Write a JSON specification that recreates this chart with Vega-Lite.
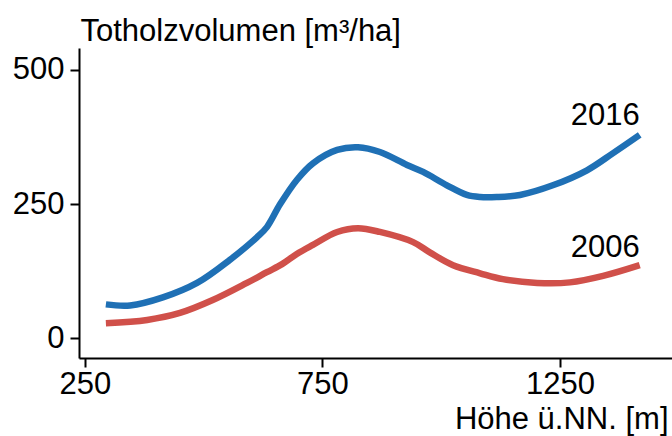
{
  "$schema": "https://vega.github.io/schema/vega-lite/v6.json",
  "autosize": {"type": "none"},
  "width": 593,
  "height": 310,
  "padding": {"left": 79, "top": 48, "right": 0, "bottom": 78},
  "background": "white",
  "config": {
    "view": {"stroke": null},
    "font": "Liberation Sans",
    "axis": {"grid": false, "domainColor": "black", "domainWidth": 2, "tickColor": "black", "tickWidth": 2, "tickSize": 9, "labelFont": "Liberation Sans", "labelFontSize": 31, "labelColor": "black", "titleFont": "Liberation Sans", "titleFontSize": 31, "titleFontWeight": "normal", "titleColor": "black", "format": "d"}
  },
  "datasets": {
    "curves": [
      {"hoehe": 294, "vol": 63, "jahr": "2016"},
      {"hoehe": 345, "vol": 61, "jahr": "2016"},
      {"hoehe": 414, "vol": 76, "jahr": "2016"},
      {"hoehe": 486, "vol": 103, "jahr": "2016"},
      {"hoehe": 555, "vol": 146, "jahr": "2016"},
      {"hoehe": 612, "vol": 188, "jahr": "2016"},
      {"hoehe": 633, "vol": 207, "jahr": "2016"},
      {"hoehe": 661, "vol": 250, "jahr": "2016"},
      {"hoehe": 696, "vol": 295, "jahr": "2016"},
      {"hoehe": 730, "vol": 326, "jahr": "2016"},
      {"hoehe": 781, "vol": 351, "jahr": "2016"},
      {"hoehe": 825, "vol": 356, "jahr": "2016"},
      {"hoehe": 871, "vol": 347, "jahr": "2016"},
      {"hoehe": 928, "vol": 323, "jahr": "2016"},
      {"hoehe": 962, "vol": 310, "jahr": "2016"},
      {"hoehe": 1012, "vol": 285, "jahr": "2016"},
      {"hoehe": 1054, "vol": 267, "jahr": "2016"},
      {"hoehe": 1082, "vol": 263, "jahr": "2016"},
      {"hoehe": 1117, "vol": 263, "jahr": "2016"},
      {"hoehe": 1166, "vol": 267, "jahr": "2016"},
      {"hoehe": 1235, "vol": 285, "jahr": "2016"},
      {"hoehe": 1307, "vol": 313, "jahr": "2016"},
      {"hoehe": 1362, "vol": 345, "jahr": "2016"},
      {"hoehe": 1418, "vol": 379, "jahr": "2016"},
      {"hoehe": 294, "vol": 28, "jahr": "2006"},
      {"hoehe": 381, "vol": 34, "jahr": "2006"},
      {"hoehe": 450, "vol": 47, "jahr": "2006"},
      {"hoehe": 519, "vol": 71, "jahr": "2006"},
      {"hoehe": 591, "vol": 103, "jahr": "2006"},
      {"hoehe": 633, "vol": 123, "jahr": "2006"},
      {"hoehe": 665, "vol": 138, "jahr": "2006"},
      {"hoehe": 696, "vol": 157, "jahr": "2006"},
      {"hoehe": 730, "vol": 174, "jahr": "2006"},
      {"hoehe": 781, "vol": 198, "jahr": "2006"},
      {"hoehe": 825, "vol": 205, "jahr": "2006"},
      {"hoehe": 871, "vol": 198, "jahr": "2006"},
      {"hoehe": 941, "vol": 179, "jahr": "2006"},
      {"hoehe": 976, "vol": 160, "jahr": "2006"},
      {"hoehe": 1025, "vol": 136, "jahr": "2006"},
      {"hoehe": 1082, "vol": 121, "jahr": "2006"},
      {"hoehe": 1130, "vol": 110, "jahr": "2006"},
      {"hoehe": 1202, "vol": 103, "jahr": "2006"},
      {"hoehe": 1271, "vol": 104, "jahr": "2006"},
      {"hoehe": 1341, "vol": 116, "jahr": "2006"},
      {"hoehe": 1418, "vol": 136, "jahr": "2006"}
    ],
    "labels": [
      {"hoehe": 1418, "vol": 397, "jahr": "2016"},
      {"hoehe": 1418, "vol": 151, "jahr": "2006"}
    ]
  },
  "layer": [
    {
      "data": {"name": "curves"},
      "mark": {"type": "line", "interpolate": "catmull-rom", "strokeWidth": 6.5, "strokeCap": "butt"},
      "encoding": {
        "x": {"field": "hoehe", "type": "quantitative", "scale": {"domain": [237.4, 1486], "nice": false, "zero": false},
          "axis": {"values": [250, 750, 1250], "title": "Höhe ü.NN. [m]", "titleAlign": "right", "titleAnchor": null, "titleX": 589, "titleY": 70, "titleBaseline": "alphabetic", "labelPadding": 2}},
        "y": {"field": "vol", "type": "quantitative", "scale": {"domain": [-37, 541], "nice": false, "zero": false},
          "axis": {"values": [0, 250, 500], "title": "Totholzvolumen [m³/ha]", "titleAngle": 0, "titleAlign": "left", "titleAnchor": null, "titleX": 1, "titleY": -8, "titleBaseline": "alphabetic", "labelPadding": 6}},
        "color": {"field": "jahr", "type": "nominal", "scale": {"domain": ["2016", "2006"], "range": ["#1f70b5", "#d0504a"]}, "legend": null}
      }
    },
    {
      "data": {"name": "labels"},
      "mark": {"type": "text", "align": "right", "baseline": "alphabetic", "fontSize": 31, "font": "Liberation Sans", "color": "black"},
      "encoding": {
        "x": {"field": "hoehe", "type": "quantitative"},
        "y": {"field": "vol", "type": "quantitative"},
        "text": {"field": "jahr"}
      }
    }
  ]
}
